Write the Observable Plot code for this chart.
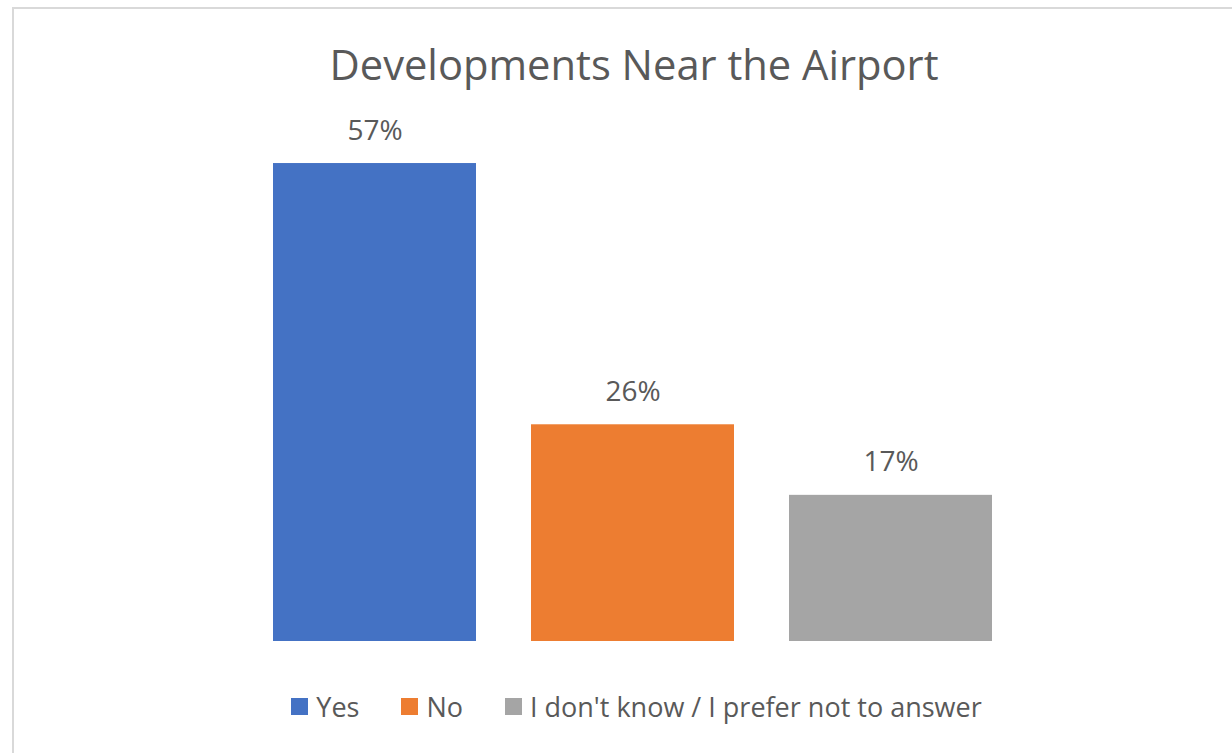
<!DOCTYPE html>
<html>
<head>
<meta charset="utf-8">
<script src="https://cdn.jsdelivr.net/npm/d3@7"></script>
<script src="https://cdn.jsdelivr.net/npm/@observablehq/plot@0.6"></script>
<style>
  html, body { margin: 0; padding: 0; background: #fff; overflow: hidden; width: 1232px; height: 753px; }
  body { font-family: "Open Sans", sans-serif; color: #595959; position: relative; }
  #frame { position: absolute; left: 12px; top: 7px; width: 1300px; height: 800px; border: 2px solid #d9d9d9; box-sizing: border-box; }
  #title { position: absolute; left: 0; top: 43px; width: 1268px; text-align: center; font-size: 41.7px; line-height: 1; white-space: nowrap; }
  #chart { position: absolute; left: 0; top: 110px; }
  #legend { position: absolute; left: 0; top: 693px; width: 1273px; display: flex; justify-content: center; align-items: center; font-size: 27px; line-height: 1; white-space: nowrap; }
  .item { display: flex; align-items: center; margin: 0 21px; }
  .sw { width: 17px; height: 17px; margin-right: 8px; }
</style>
</head>
<body>
<div id="frame"></div>
<div id="title"></div>
<div id="chart"></div>
<div id="legend"></div>
<script>
const titleText = "Developments Near the Airport";
const categories = ["Yes", "No", "I don't know / I prefer not to answer"];
const values = [56.9, 25.8, 17.4];
const labels = ["57%", "26%", "17%"];
const colors = ["#4472C4", "#ED7D31", "#A5A5A5"];

const data = categories.map((c, i) => ({category: c, value: values[i], label: labels[i]}));

document.getElementById("title").textContent = titleText;

const chart = Plot.plot({
  width: 1232,
  height: 550,
  marginLeft: 218,
  marginRight: 184,
  marginTop: 27,
  marginBottom: 19,
  style: {fontFamily: "Open Sans", background: "transparent"},
  x: {domain: categories, padding: 0.213, axis: null},
  y: {domain: [0, 60], axis: null},
  color: {domain: categories, range: colors},
  marks: [
    Plot.barY(data, {x: "category", y: "value", fill: "category"}),
    Plot.text(data, {x: "category", y: "value", text: "label", dy: -33, lineAnchor: "middle", fontSize: 28, fill: "#595959"})
  ]
});
document.getElementById("chart").appendChild(chart);

const legend = document.getElementById("legend");
categories.forEach((c, i) => {
  const item = document.createElement("div");
  item.className = "item";
  const sw = document.createElement("div");
  sw.className = "sw";
  sw.style.background = colors[i];
  const t = document.createElement("span");
  t.textContent = c;
  item.appendChild(sw);
  item.appendChild(t);
  legend.appendChild(item);
});
</script>
</body>
</html>
